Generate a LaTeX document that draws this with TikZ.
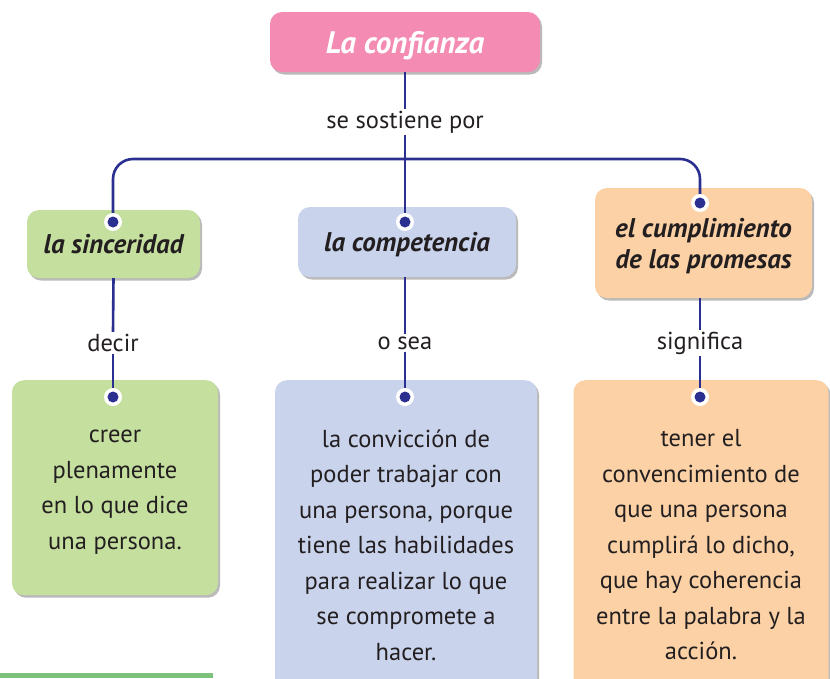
\documentclass[tikz,border=0pt]{standalone}
\usepackage{fontspec}
\setmainfont{PT Sans}
\usetikzlibrary{shadows}
\definecolor{lnblue}{HTML}{2B3090}
\definecolor{pinkc}{HTML}{F38BB2}
\definecolor{greenc}{HTML}{C5DF9F}
\definecolor{bluec}{HTML}{C9D3EC}
\definecolor{orangec}{HTML}{FBD1A5}
\definecolor{txt}{HTML}{231F20}
\definecolor{barg}{HTML}{7DC27A}
\begin{document}
\begin{tikzpicture}[x=1pt,y=-1pt,
  box/.style={rounded corners=12pt, inner sep=0pt, align=center, text=txt,
    drop shadow={shadow xshift=2pt, shadow yshift=-2.5pt, fill=black!45, opacity=0.6}},
  headtxt/.style={font=\fontsize{27}{31}\selectfont\bfseries\itshape, text depth=0pt},
  bodytxt/.style={font=\fontsize{24.5}{35.5}\selectfont, text=txt, align=center},
  linktxt/.style={font=\fontsize{24.5}{27}\selectfont, text=txt, inner sep=2pt},
  conn/.style={draw=lnblue, line width=2.6pt},
  dotn/.style={circle, minimum size=16pt, inner sep=0pt}
]
\useasboundingbox (0,0) rectangle (830,678);
% boxes
\node[box, fill=pinkc, minimum width=270pt, minimum height=60pt, font=\fontsize{31}{34}\selectfont\bfseries\itshape, text depth=0pt, text=white] (T) at (405,42) {La confianza};
\node[box, fill=greenc, minimum width=173pt, minimum height=68pt, headtxt] (S) at (113.5,244) {la sinceridad};
\node[box, fill=bluec, minimum width=218pt, minimum height=70pt, headtxt] (C) at (407,242) {la competencia};
\node[box, fill=orangec, minimum width=217pt, minimum height=110pt, headtxt] (P) at (703.5,243) {el cumplimiento\\de las promesas};
\node[box, fill=greenc, minimum width=206pt, minimum height=215pt, anchor=north] (S2) at (115,380) {};
\node[bodytxt] (S2t) at (115,492) {creer\\plenamente\\en lo que dice\\una persona.};
\node[box, fill=bluec, minimum width=262pt, minimum height=310pt, anchor=north] (C2) at (406,380) {};
\node[bodytxt] (C2t) at (406,545) {la convicción de\\poder trabajar con\\una persona, porque\\tiene las habilidades\\para realizar lo que\\se compromete a\\hacer.};
\node[box, fill=orangec, minimum width=255pt, minimum height=310pt, anchor=north] (P2) at (701,380) {};
\node[bodytxt] (P2t) at (701,545) {tener el\\convencimiento de\\que una persona\\cumplirá lo dicho,\\que hay coherencia\\entre la palabra y la\\acción.};
\fill[barg] (0,673) rectangle (213,678);
% link labels
\node[linktxt] (sos) at (405,122) {se sostiene por};
\node[linktxt] (dec) at (113,343) {decir};
\node[linktxt] (osea) at (405,343) {o sea};
\node[linktxt] (sig) at (700,343) {significa};
% dots
\coordinate (bus) at (405,159);
\node[dotn] (d1) at (113,222) {};
\node[dotn] (d2) at (405,222) {};
\node[dotn] (d3) at (700,203) {};
\node[dotn] (e1) at (113,397) {};
\node[dotn] (e2) at (405,397) {};
\node[dotn] (e3) at (700,397) {};
% connectors
\draw[conn] (T.south) -- (sos.north);
\draw[conn] (sos.south) -- (d2.center);
\draw[conn, rounded corners=20pt] (d1.center) |- (bus);
\draw[conn, rounded corners=20pt] (d3.center) |- (bus);
\draw[conn] (S.south) -- (dec.north);
\draw[conn] (dec.south) -- (e1.center);
\draw[conn] (C.south -| osea) -- (osea.north);
\draw[conn] (osea.south) -- (e2.center);
\draw[conn] (P.south -| sig) -- (sig.north);
\draw[conn] (sig.south) -- (e3.center);
% dots on top
\foreach \d in {d1,d2,d3,e1,e2,e3}{
  \fill[white] (\d.center) circle (9pt);
  \fill[lnblue] (\d.center) circle (5.5pt);
}
\end{tikzpicture}
\end{document}
